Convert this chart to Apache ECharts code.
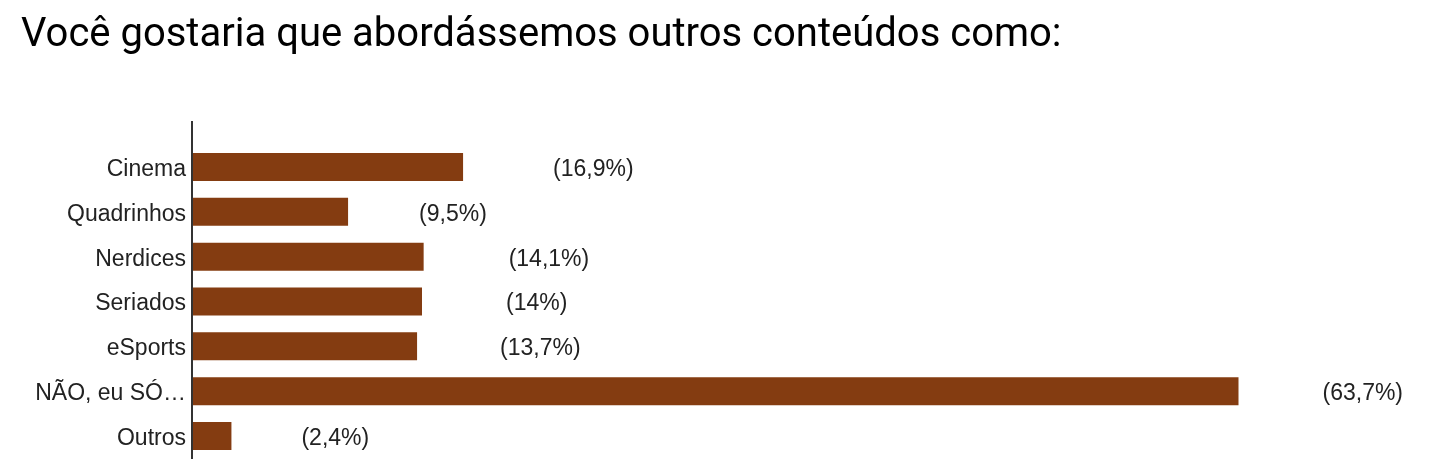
<!DOCTYPE html>
<html>
<head>
<meta charset="utf-8">
<script src="https://cdn.jsdelivr.net/npm/echarts@6/dist/echarts.min.js"></script>
<style>
html,body{margin:0;padding:0;background:#fff;}
#chart{width:1433px;height:459px;}
</style>
</head>
<body>
<div id="chart"></div>
<script>
// Data
const titleText = 'Você gostaria que abordássemos outros conteúdos como:';
const categories = ['Cinema', 'Quadrinhos', 'Nerdices', 'Seriados', 'eSports', 'NÃO, eu SÓ…', 'Outros'];
const barValues = [16.5, 9.5, 14.1, 14.0, 13.7, 63.7, 2.4];
const percentLabels = ['(16,9%)', '(9,5%)', '(14,1%)', '(14%)', '(13,7%)', '(63,7%)', '(2,4%)'];

// Layout (not data)
const labelGaps = [90, 71, 85, 84, 83, 84, 70];

const chart = echarts.init(document.getElementById('chart'));
const seriesData = barValues.map((v, i) => ({
  value: v,
  label: { distance: labelGaps[i] }
}));

const txt = { fontFamily: 'Liberation Sans', fontSize: 23, color: '#222', padding: [5, 0, 0, 0] };

chart.setOption({
  animation: false,
  backgroundColor: '#fff',
  title: {
    text: titleText,
    left: 16,
    top: 11,
    textStyle: { fontFamily: 'Roboto', fontSize: 40, fontWeight: 'normal', color: '#000' }
  },
  grid: { left: 192, right: 91, top: 144.6, bottom: 0.6, containLabel: false },
  xAxis: {
    type: 'value', min: 0, max: 70,
    show: false
  },
  yAxis: {
    type: 'category', inverse: true, data: categories,
    axisLine: { show: false },
    axisTick: { show: false },
    axisLabel: {
      margin: 6,
      formatter: v => '{t|' + v + '}',
      rich: { t: txt }
    }
  },
  graphic: [{
    type: 'line', z: 10,
    shape: { x1: 192, y1: 121, x2: 192, y2: 459 },
    style: { stroke: '#333', lineWidth: 2 }
  }],
  series: [{
    type: 'bar',
    data: seriesData,
    barWidth: 28,
    itemStyle: { color: '#843c11' },
    label: {
      show: true,
      position: 'right',
      formatter: p => '{t|' + percentLabels[p.dataIndex] + '}',
      rich: { t: txt }
    }
  }]
});
</script>
</body>
</html>
